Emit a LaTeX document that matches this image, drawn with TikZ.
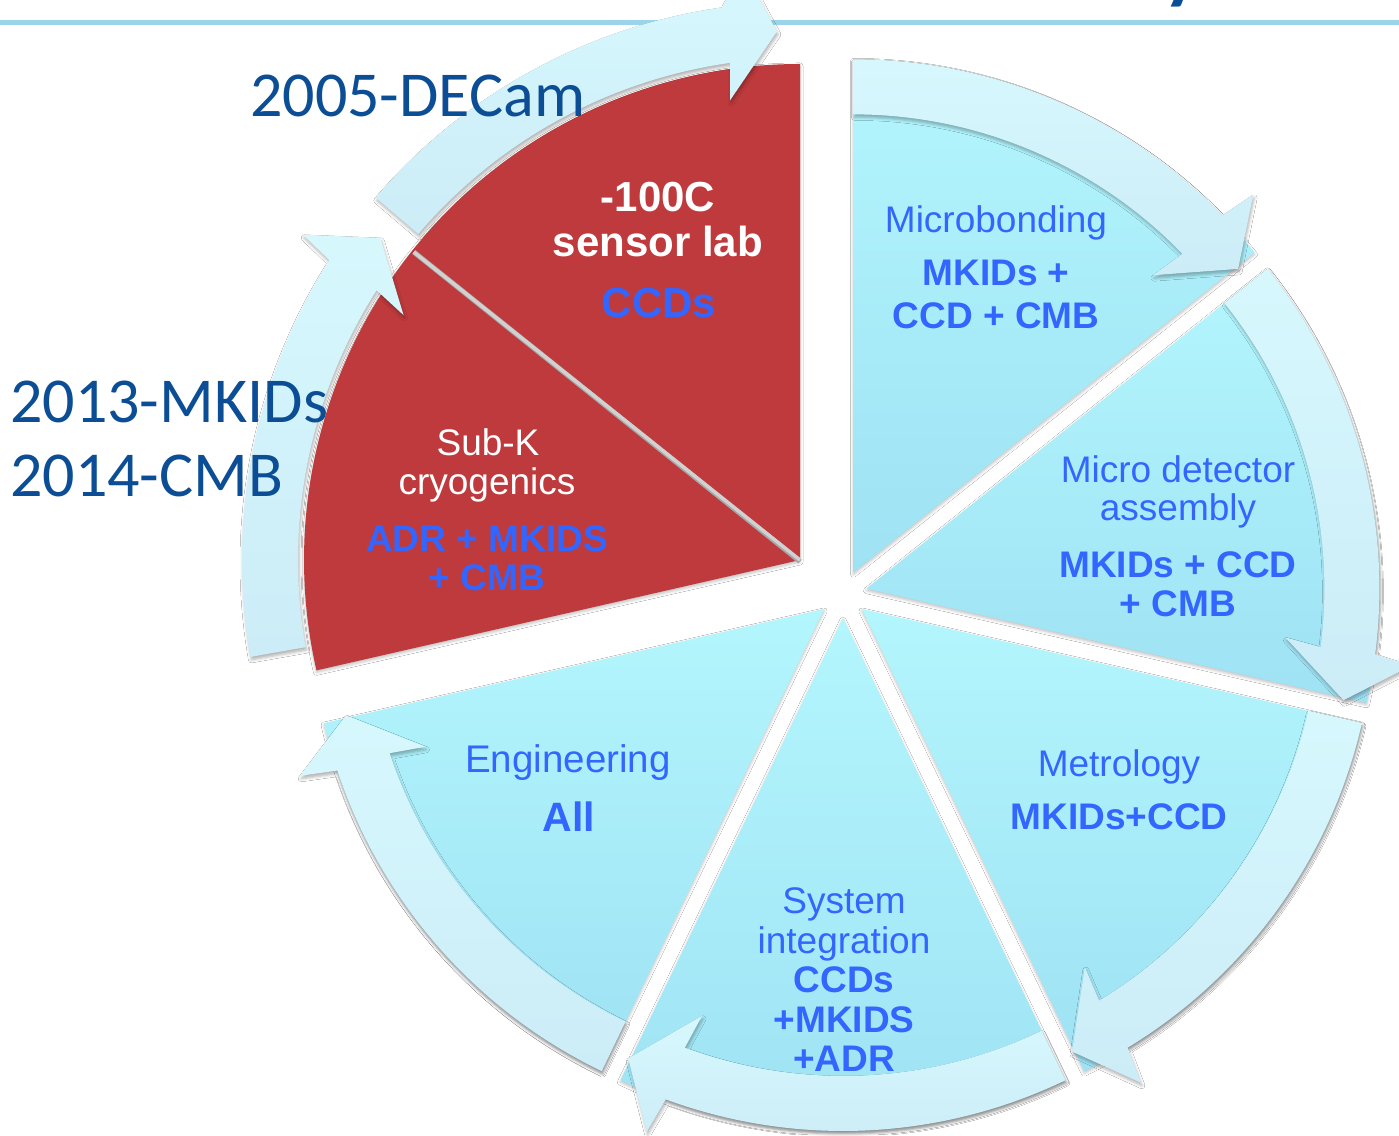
\documentclass[tikz,border=0pt]{standalone}
\usepackage{fontspec}
\setmainfont{Liberation Sans}
\newfontfamily\calfont{Carlito}
\usetikzlibrary{shadows.blur}

\definecolor{txtblue}{RGB}{51,102,255}
\definecolor{yearblue}{RGB}{12,78,150}
\definecolor{redfill}{RGB}{191,58,60}
\definecolor{wedgetop}{RGB}{179,246,253}
\definecolor{wedgebot}{RGB}{158,226,244}
\definecolor{arrowtop}{RGB}{214,248,253}
\definecolor{arrowbot}{RGB}{204,236,247}
\definecolor{lineblue}{RGB}{155,212,234}

\begin{document}
\begin{tikzpicture}[x=1pt,y=1pt,
  wedgefill/.style={top color=wedgetop, bottom color=wedgebot,
    blur shadow={shadow xshift=0pt, shadow yshift=-2pt, shadow blur radius=3pt, shadow opacity=25}},
  arrowfill/.style={top color=arrowtop, bottom color=arrowbot,
    blur shadow={shadow xshift=1pt, shadow yshift=-3pt, shadow blur radius=3pt, shadow opacity=30}},
  redwedge/.style={fill=redfill,
    blur shadow={shadow xshift=0pt, shadow yshift=-2pt, shadow blur radius=3pt, shadow opacity=25}},
  lbl/.style={anchor=base, inner sep=0pt, text=txtblue, font=\fontsize{37}{44}\selectfont},
  lblb/.style={lbl, font=\fontsize{37}{44}\selectfont\bfseries},
  wlbl/.style={lbl, text=white},
  biglbl/.style={anchor=base, inner sep=0pt, text=white, font=\fontsize{42}{50}\selectfont\bfseries},
  yearlbl/.style={anchor=base west, inner sep=0pt, text=yearblue, font=\calfont\fontsize{64}{76}\selectfont}]

\useasboundingbox (0,0) rectangle (1399,1135);
\fill[white] (0,0) rectangle (1399,1135);

% title rule and the descender of the title above the page
\node[anchor=base west, inner sep=0pt, text=yearblue, font=\calfont\bfseries\fontsize{80}{80}\selectfont] (ttly) at (1163,1140) {y};
\fill[lineblue] (0,1110) rectangle (1399,1115);

% five light segments, each pushed out along its bisector
\foreach \s/\e/\b in {90/38.57/64.29, 38.57/-12.86/12.86, -12.86/-64.29/-38.57,
                      -64.29/-115.71/-90, -115.71/-167.14/-141.43} {
  \begin{scope}[shift={(843,541)}, shift={(\b:24)}]
    \path[wedgefill] (0,0) -- (\s:513) arc[start angle=\s, end angle=\e, radius=513] -- cycle;
  \end{scope}
}

% curved arrows along the rims of the light segments
\foreach \s/\e/\b in {90/38.57/64.29, 38.57/-12.86/12.86, -12.86/-64.29/-38.57,
                      -64.29/-115.71/-90, -115.71/-167.14/-141.43} {
  \pgfmathsetmacro\eb{\e+5.5}
  \pgfmathsetmacro\eo{\eb-0.7}
  \pgfmathsetmacro\ei{\eb+0.7}
  \pgfmathsetmacro\et{\e-0.3}
  \begin{scope}[shift={(843,541)}, shift={(\b:24)}]
    \path[arrowfill] (\s:513) arc[start angle=\s, end angle=\eb, radius=513]
      -- (\eo:550) -- (\et:490) -- (\ei:422) -- (\eb:458)
      arc[start angle=\eb, end angle=\s, radius=458] -- cycle;
  \end{scope}
}

% red double segment with its divider
\begin{scope}[shift={(800,575)}]
  \path[redwedge] (0,0) -- (90:496) arc[start angle=90, end angle=192.86, radius=496] -- cycle;
  \draw[line width=5pt, black!35] (0,-1.5) -- (141.43:494);
  \draw[line width=3.5pt, black!18] (0,0) -- (141.43:494);
  % arrows outside the red segment
  \path[arrowfill] (190:558) arc[start angle=190, end angle=147.5, radius=558]
    -- (146.8:594) -- (142.5:529) -- (148.3:466) -- (147.5:502)
    arc[start angle=147.5, end angle=190, radius=502] -- cycle;
  \path[arrowfill] (139.5:558) arc[start angle=139.5, end angle=98, radius=558]
    -- (95.5:594) -- (92.5:529) -- (98.65:465) -- (98:502)
    arc[start angle=98, end angle=139.5, radius=502] -- cycle;
\end{scope}

% year labels
\node[yearlbl] (y2005) at (250,1018) {2005-DECam};
\node[yearlbl] (y2013) at (10,712) {2013-MKIDs};
\node[yearlbl] (y2014) at (10,638) {2014-CMB};

% sensor lab
\node[biglbl] (sla) at (658,923) {-100C};
\node[biglbl] (slb) at (658,878) {sensor lab};
\node[biglbl, text=txtblue] (slc) at (659,817) {CCDs};

% sub-K cryogenics
\node[wlbl] (ska) at (488,679) {Sub-K};
\node[wlbl] (skb) at (487,640) {cryogenics};
\node[lblb] (skc) at (487,583) {ADR + MKIDS};
\node[lblb] (skd) at (487,544) {+ CMB};

% microbonding
\node[lbl] (mba) at (996,902) {Microbonding};
\node[lblb] (mbb) at (996,849) {MKIDs +};
\node[lblb] (mbc) at (996,806) {CCD + CMB};

% micro detector assembly
\node[lbl] (mda) at (1178,652) {Micro detector};
\node[lbl] (mdb) at (1178,614) {assembly};
\node[lblb] (mdc) at (1178,557) {MKIDs + CCD};
\node[lblb] (mdd) at (1178,518) {+ CMB};

% metrology
\node[lbl] (mea) at (1119,358) {Metrology};
\node[lblb] (meb) at (1119,305) {MKIDs+CCD};

% system integration
\node[lbl] (sia) at (844,222) {System};
\node[lbl] (sib) at (844,182) {integration};
\node[lblb] (sic) at (844,143) {CCDs};
\node[lblb] (sid) at (844,103) {+MKIDS};
\node[lblb] (sie) at (844,64) {+ADR};

% engineering
\node[lbl, font=\fontsize{38.5}{46}\selectfont] (ena) at (568,362) {Engineering};
\node[lblb, font=\fontsize{41}{49}\selectfont\bfseries] (enb) at (569,303) {All};

\end{tikzpicture}
\end{document}
